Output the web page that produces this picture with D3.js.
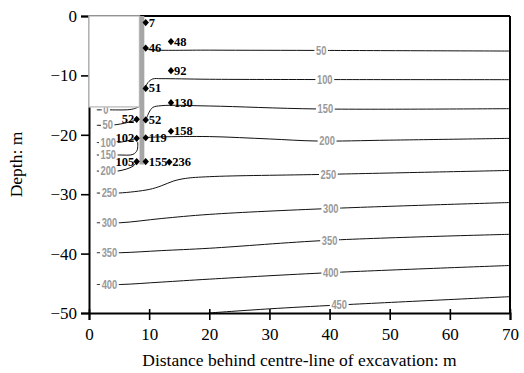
<!DOCTYPE html>
<html>
<head>
<meta charset="utf-8">
<script src="https://cdn.jsdelivr.net/npm/d3@7"></script>
<style>
  html, body { margin: 0; padding: 0; background: #fff; }
  svg { display: block; }
</style>
</head>
<body>
<svg id="chart" width="524" height="373"></svg>
<script>
// Axis ticks
const xTicks = [0, 10, 20, 30, 40, 50, 60, 70];
const yTicks = [0, -10, -20, -30, -40, -50];

// Excavation geometry (m)
const excavationHalfWidth = 8.4;
const excavationDepth = -15.3;
const wallThickness = 0.8;
const wallToe = -25;

// Monitoring points: position (m) and measured value
const gaugeX     = [9.43, 9.43, 13.63, 13.63, 9.43, 13.63, 7.93, 9.43, 13.63, 7.93, 9.43, 7.93, 9.43, 13.35];
const gaugeDepth = [-1.1, -5.4, -4.3, -9.2, -12.2, -14.6, -17.4, -17.5, -19.4, -20.6, -20.5, -24.5, -24.5, -24.6];
const gaugeValue = [7, 46, 48, 92, 51, 130, 52, 52, 158, 102, 119, 105, 155, 236];
const gaugeSide  = ["r", "r", "r", "r", "r", "r", "l", "r", "r", "l", "r", "l", "r", "r"];

// Contour lines: level, traced points [x (m), depth (m)], label stations along x
const c0     = [[1.3, -15.8], [3, -15.8], [6.8, -15.75], [7.8, -15.5], [8.4, -15.2]];
const c50a   = [[1.3, -18.4], [4.5, -18.3], [7.2, -17.7], [7.9, -17.4]];
const c50b   = [[9.4, -5.5], [10.5, -5.7], [20, -5.75], [40, -5.8], [70, -5.9]];
const c100a  = [[1.3, -21.3], [4.8, -21.3], [7.2, -20.8], [7.9, -20.6]];
const c100b  = [[9.3, -12.2], [9.8, -11.2], [10.6, -10.6], [12, -10.55], [20, -10.65], [40, -10.7], [70, -10.72]];
const c150a  = [[1.3, -23.4], [5, -23.4], [7.3, -23.3], [8.0, -22.6], [8.1, -21.2]];
const c150b  = [[9.5, -17.4], [10, -16.2], [10.6, -15.4], [12, -15.1], [20, -15.15], [38, -15.65], [70, -15.6]];
const c200a  = [[1.3, -26.1], [4.8, -26.1], [7.3, -25.3], [7.9, -24.6]];
const c200b  = [[9.4, -20.45], [12, -20.35], [20, -20.3], [30, -20.7], [38, -21.05], [50, -20.9], [70, -20.6]];
const c250   = [[1.3, -29.8], [5, -29.8], [10, -29.2], [12, -28.6], [14, -27.8], [16, -27.35], [20, -27.05], [39.8, -26.65], [70, -26.0]];
const c300   = [[1.3, -34.8], [5.3, -34.8], [12, -34.1], [20, -33.4], [40.2, -32.4], [70, -31.4]];
const c350   = [[1.3, -39.85], [5.3, -39.85], [12, -39.5], [20, -39.1], [40, -37.75], [70, -36.75]];
const c400   = [[1.3, -45.2], [5.3, -45.2], [12, -44.8], [20, -44.3], [40.2, -43.2], [70, -42.0]];
const c450   = [[19.9, -50], [30, -49.3], [41.6, -48.65], [70, -47.25]];

const contours = [
  { level: 0,   pts: c0,    labels: [2.8] },
  { level: 50,  pts: c50a,  labels: [3.1] },
  { level: 50,  pts: c50b,  labels: [38.6] },
  { level: 100, pts: c100a, labels: [3.2] },
  { level: 100, pts: c100b, labels: [39.2] },
  { level: 150, pts: c150a, labels: [3.2] },
  { level: 150, pts: c150b, labels: [39.3] },
  { level: 200, pts: c200a, labels: [3.2] },
  { level: 200, pts: c200b, labels: [39.6] },
  { level: 250, pts: c250,  labels: [3.4, 39.8] },
  { level: 300, pts: c300,  labels: [3.4, 40.2] },
  { level: 350, pts: c350,  labels: [3.4, 40.0] },
  { level: 400, pts: c400,  labels: [3.4, 40.2] },
  { level: 450, pts: c450,  labels: [41.6] }
];

const svg = d3.select("#chart");
const x = d3.scaleLinear().domain([0, 70]).range([89, 510]);
const y = d3.scaleLinear().domain([-50, 0]).range([313, 16]);

const serif = "Liberation Serif, Times New Roman, serif";
const sans = "Liberation Sans, Arial, sans-serif";

// Contour lines
const line = d3.line().x(d => x(d[0])).y(d => y(d[1])).curve(d3.curveCatmullRom.alpha(0.5));
svg.append("g").selectAll("path").data(contours).join("path")
  .attr("d", d => line(d.pts))
  .attr("fill", "none")
  .attr("stroke", "#111")
  .attr("stroke-width", 1);

// Depth along a contour at a given x (linear between traced points)
function depthAt(pts, xv) {
  for (let i = 0; i < pts.length - 1; i++) {
    const a = pts[i], b = pts[i + 1];
    if (xv >= a[0] && xv <= b[0]) {
      const t = (xv - a[0]) / (b[0] - a[0] || 1);
      return a[1] + t * (b[1] - a[1]);
    }
  }
  return pts[0][1];
}

// Contour labels in a condensed face, each cutting a gap in its line
const labelItems = [];
contours.forEach(c => c.labels.forEach(lx => labelItems.push({ level: c.level, x: lx, d: depthAt(c.pts, lx) })));
const gL = svg.append("g");
labelItems.forEach(it => {
  const g = gL.append("g").attr("transform", `translate(${x(it.x)},${y(it.d)}) scale(0.78,1)`);
  const bg = g.append("rect").attr("fill", "#fff");
  const t = g.append("text")
    .attr("x", 0).attr("y", 0)
    .attr("text-anchor", "middle").attr("dominant-baseline", "central")
    .attr("font-family", sans).attr("font-weight", "bold").attr("font-size", 12)
    .attr("fill", "#999")
    .text(it.level);
  const bb = t.node().getBBox();
  bg.attr("x", bb.x - 2).attr("y", -2).attr("width", bb.width + 4).attr("height", 4);
});

// Axes
const gx = svg.append("g").attr("transform", `translate(0,${y(-50)})`)
  .call(d3.axisBottom(x).tickValues(xTicks).tickSizeOuter(0).tickSize(7).tickPadding(8));
gx.attr("font-family", serif).attr("font-size", 17);
gx.selectAll(".tick line").attr("y1", -4).attr("stroke", "#000").attr("stroke-width", 1.6);
gx.select(".domain").attr("stroke", "#000").attr("stroke-width", 2);
gx.selectAll("text").attr("fill", "#000");

const gy = svg.append("g").attr("transform", `translate(${x(0)},0)`)
  .call(d3.axisLeft(y).tickValues(yTicks).tickSizeOuter(0).tickSize(8).tickPadding(4));
gy.attr("font-family", serif).attr("font-size", 17);
gy.selectAll(".tick line").attr("stroke", "#000").attr("stroke-width", 1.6);
gy.select(".domain").attr("stroke", "#000").attr("stroke-width", 2);
gy.selectAll("text").attr("fill", "#000");

// Top and right frame
svg.append("line").attr("x1", x(0)).attr("x2", x(70)).attr("y1", y(0)).attr("y2", y(0))
  .attr("stroke", "#000").attr("stroke-width", 2);
svg.append("line").attr("x1", x(70)).attr("x2", x(70)).attr("y1", y(0)).attr("y2", y(-50))
  .attr("stroke", "#000").attr("stroke-width", 2);

// Excavation and retaining wall
svg.append("rect")
  .attr("x", x(0)).attr("y", y(0))
  .attr("width", x(excavationHalfWidth) - x(0)).attr("height", y(excavationDepth) - y(0))
  .attr("fill", "#fff").attr("stroke", "#c4c4c4").attr("stroke-width", 1.5);
svg.append("rect")
  .attr("x", x(excavationHalfWidth)).attr("y", y(0))
  .attr("width", x(excavationHalfWidth + wallThickness) - x(excavationHalfWidth))
  .attr("height", y(wallToe) - y(0))
  .attr("fill", "#a6a6a6");

// Monitoring points
const gauges = gaugeX.map((gx, i) => ({ x: gx, d: gaugeDepth[i], v: gaugeValue[i], side: gaugeSide[i] }));
const gG = svg.append("g");
gG.selectAll("path").data(gauges).join("path")
  .attr("transform", d => `translate(${x(d.x)},${y(d.d)})`)
  .attr("d", "M0,-3.6L3.2,0L0,3.6L-3.2,0Z")
  .attr("fill", "#000");
gG.selectAll("text").data(gauges).join("text")
  .attr("x", d => x(d.x) + (d.side === "r" ? 3 : -2.5))
  .attr("y", d => y(d.d))
  .attr("dominant-baseline", "central")
  .attr("text-anchor", d => d.side === "r" ? "start" : "end")
  .attr("font-family", serif).attr("font-weight", "bold").attr("font-size", 12.5)
  .attr("fill", "#000")
  .text(d => d.v);

// Axis titles
svg.append("text")
  .attr("x", (x(0) + x(70)) / 2).attr("y", 366)
  .attr("text-anchor", "middle")
  .attr("font-family", serif).attr("font-size", 17.5).attr("fill", "#000")
  .text("Distance behind centre-line of excavation: m");
svg.append("text")
  .attr("transform", `translate(22,${(y(0) + y(-50)) / 2}) rotate(-90)`)
  .attr("text-anchor", "middle")
  .attr("font-family", serif).attr("font-size", 17.5).attr("fill", "#000")
  .text("Depth: m");
</script>
</body>
</html>
